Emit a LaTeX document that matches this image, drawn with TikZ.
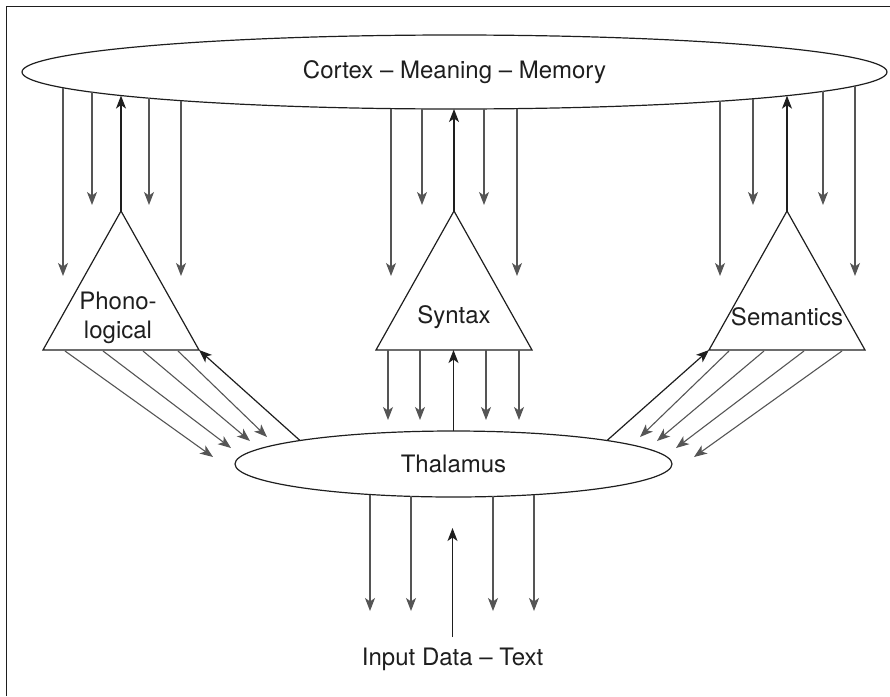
\documentclass[tikz,border=0pt]{standalone}
\usepackage{fontspec}
\setmainfont{TeX Gyre Heros}
\usetikzlibrary{arrows.meta,shapes.geometric}
\definecolor{ag}{HTML}{555555}
\definecolor{lk}{HTML}{1E1E1E}
\begin{document}
\begin{tikzpicture}[x=1pt,y=-1pt,
  lbl/.style={font=\fontsize{24}{29}\selectfont, text=lk, inner sep=0pt, align=center},
  ell/.style={draw=lk, line width=1.2pt, ellipse, inner sep=0pt, outer sep=0pt, font=\fontsize{24}{29}\selectfont, text=lk},
  tri/.style={draw=lk, line width=1.2pt, line join=miter},
  garrow/.style={draw=ag, line width=1.1pt, -{Stealth[length=13pt,width=10pt,inset=3.5pt]}},
  karrow/.style={draw=lk, line width=1.2pt, -{Stealth[length=13pt,width=10pt,inset=3.5pt]}}]
\useasboundingbox (0,0) rectangle (890,696);
% frame
\draw[lk, line width=1.6pt] (6.5,696) -- (6.5,6.5) -- (890,6.5);

% ellipses
\node[ell, minimum width=865pt, minimum height=74pt] (cortex) at (454.5,72) {Cortex -- Meaning -- Memory};
\node[ell, minimum width=437pt, minimum height=66pt] (thal) at (453.5,464) {Thalamus};

% triangles
\coordinate (phA) at (121,211); \coordinate (phL) at (43,350); \coordinate (phR) at (199,350);
\coordinate (syA) at (454,211); \coordinate (syL) at (376,350); \coordinate (syR) at (532,350);
\coordinate (seA) at (787,211); \coordinate (seL) at (709,350); \coordinate (seR) at (865,350);
\draw[tri] (phA) -- (phL) -- (phR) -- cycle;
\draw[tri] (syA) -- (syL) -- (syR) -- cycle;
\draw[tri] (seA) -- (seL) -- (seR) -- cycle;
\node[lbl] (phon) at (118,317.5) {Phono-\\logical};
\node[lbl] (synt) at (454,317) {Syntax};
\node[lbl] (sema) at (787,317) {Semantics};

% cortex down arrows
\foreach \x/\t in {63/276, 92/205, 149/205, 181/276,
                   391/276, 422/205, 484/205, 517/276,
                   720/276, 753/205, 823/205, 855/276}{
  \pgfmathsetmacro\ys{72+37*sqrt(1-((\x-454.5)/432.5)^2)}
  \coordinate (cs) at (\x,\ys);
  \coordinate (ct) at (\x,\t);
  \draw[garrow] (cs) -- (ct);
}
% up arrows from apexes to cortex
\foreach \a/\x in {phA/121, syA/454, seA/787}{
  \pgfmathsetmacro\ys{72+37*sqrt(1-((\x-454.5)/432.5)^2)}
  \coordinate (ce) at (\x,\ys);
  \draw[karrow] (\a) -- (ce);
}

% syntax lower arrows
\foreach \x in {388, 420, 486, 519}{
  \coordinate (ss) at (\x,350);
  \coordinate (st) at (\x,420);
  \draw[garrow] (ss) -- (st);
}
\draw[karrow] (thal.north) -- (thal.north |- syL);

% diagonal arrows
\foreach \sx/\ex/\ey in {65/213/457, 103/231/448, 143/250/441, 178/267/437}{
  \coordinate (ds) at (\sx,351);
  \coordinate (de) at (\ex,\ey);
  \draw[garrow] (ds) -- (de);
  \coordinate (ds2) at (907-\sx,351);
  \coordinate (de2) at (907-\ex,\ey);
  \draw[garrow] (ds2) -- (de2);
}
\coordinate (thL) at (300,440.5);
\coordinate (thR) at (607,440.5);
\draw[karrow] (thL) -- (phR);
\draw[karrow] (thR) -- (seL);

% bottom arrows
\foreach \x in {370, 411, 493, 534}{
  \pgfmathsetmacro\ys{464+33*sqrt(1-((\x-453.5)/218.5)^2)}
  \coordinate (bs) at (\x,\ys);
  \coordinate (bt) at (\x,611);
  \draw[garrow] (bs) -- (bt);
}
\node[lbl] (input) at (452.5,659) {Input Data -- Text};
\coordinate (inp) at (452.5,637);
\coordinate (inq) at (452.5,528);
\draw[karrow] (inp) -- (inq);
\end{tikzpicture}
\end{document}
